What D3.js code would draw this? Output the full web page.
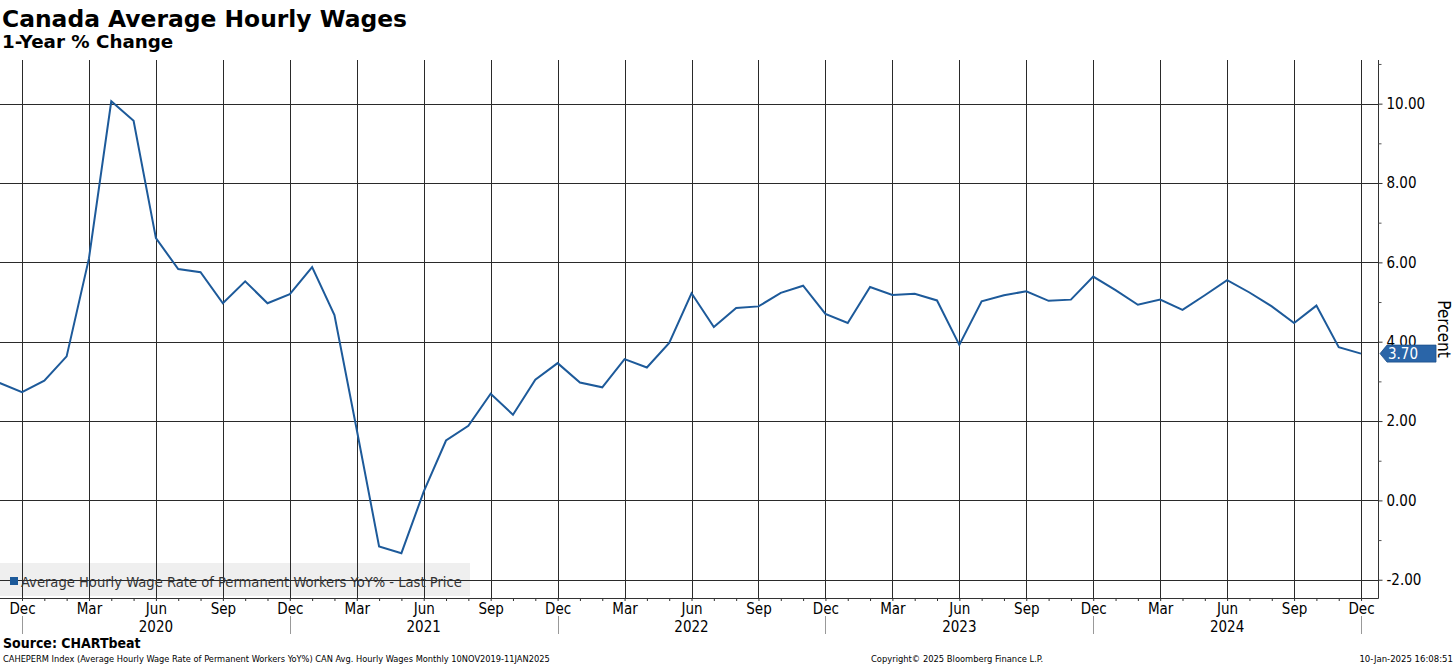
<!DOCTYPE html>
<html>
<head>
<meta charset="utf-8">
<script src="https://cdn.jsdelivr.net/npm/d3@7"></script>
<style>
  html, body { margin: 0; padding: 0; background: #fff; }
  svg { display: block; }
  text { font-family: Tahoma, "DejaVu Sans Condensed", "DejaVu Sans", sans-serif; }
</style>
</head>
<body>
<svg id="chart" width="1456" height="665"></svg>
<script>
// ---------- data ----------
const months = [
  "2019-11","2019-12",
  "2020-01","2020-02","2020-03","2020-04","2020-05","2020-06","2020-07","2020-08","2020-09","2020-10","2020-11","2020-12",
  "2021-01","2021-02","2021-03","2021-04","2021-05","2021-06","2021-07","2021-08","2021-09","2021-10","2021-11","2021-12",
  "2022-01","2022-02","2022-03","2022-04","2022-05","2022-06","2022-07","2022-08","2022-09","2022-10","2022-11","2022-12",
  "2023-01","2023-02","2023-03","2023-04","2023-05","2023-06","2023-07","2023-08","2023-09","2023-10","2023-11","2023-12",
  "2024-01","2024-02","2024-03","2024-04","2024-05","2024-06","2024-07","2024-08","2024-09","2024-10","2024-11","2024-12"
];
const wageYoY = [
  2.96, 2.73,
  3.02, 3.63, 6.10, 10.06, 9.57, 6.61, 5.83, 5.75, 4.97, 5.52, 4.97, 5.20,
  5.88, 4.67, 1.78, -1.16, -1.33, 0.22, 1.51, 1.88, 2.69, 2.16, 3.04, 3.46,
  2.97, 2.85, 3.56, 3.35, 3.97, 5.22, 4.37, 4.85, 4.89, 5.23, 5.41, 4.70,
  4.47, 5.38, 5.18, 5.21, 5.04, 3.92, 5.02, 5.17, 5.27, 5.03, 5.06, 5.64,
  5.30, 4.93, 5.06, 4.80, 5.17, 5.55, 5.24, 4.89, 4.47, 4.91, 3.86, 3.70
];
const monthNames = ["Jan","Feb","Mar","Apr","May","Jun","Jul","Aug","Sep","Oct","Nov","Dec"];
const quarterMonths = ["Mar","Jun","Sep","Dec"];
const yTicks = [-2, 0, 2, 4, 6, 8, 10];
const yMinorTicks = [-1, 1, 3, 5, 7, 9, 11];
const yearLabels = ["2020","2021","2022","2023","2024"];
const lastValueLabel = "3.70";
const titleText = "Canada Average Hourly Wages";
const subtitleText = "1-Year % Change";
const legendText = "Average Hourly Wage Rate of Permanent Workers YoY% - Last Price";
const yAxisTitle = "Percent";
const sourceText = "Source: CHARTbeat";
const footerLeft = "CAHEPERM Index (Average Hourly Wage Rate of Permanent Workers YoY%) CAN Avg. Hourly Wages  Monthly 10NOV2019-11JAN2025";
const footerMid = "Copyright\u00A9 2025 Bloomberg Finance L.P.";
const footerRight = "10-Jan-2025 16:08:51";

// ---------- layout ----------
const plotLeft = 0, plotRight = 1378, plotTop = 60, plotBottom = 598;
const lineColor = "#1d5a9a";
const gridColor = "#2a2a2a";
const baseFont = 'Tahoma, "DejaVu Sans Condensed", "DejaVu Sans", sans-serif';
const titleFont = '"DejaVu Sans", Verdana, sans-serif';

const svg = d3.select("#chart");

const idx = months.map((m, i) => i);
const monthOf = m => +m.split("-")[1];

const x = d3.scaleLinear().domain([0.014, 61.76]).range([plotLeft, plotRight]);
const y = d3.scaleLinear().domain([-2.46, 11.1]).range([plotBottom, plotTop]);

const quarterIdx = idx.filter(i => quarterMonths.includes(monthNames[monthOf(months[i]) - 1]));
const decIdx = idx.filter(i => monthOf(months[i]) === 12);
const junIdx = idx.filter(i => monthOf(months[i]) === 6);

// ---------- legend background (below grid) ----------
svg.append("rect")
  .attr("x", 0).attr("y", 563).attr("width", 470).attr("height", 33)
  .attr("fill", "#efefef");

// ---------- grid ----------
svg.append("g").selectAll("line").data(yTicks).join("line")
  .attr("x1", plotLeft).attr("x2", plotRight)
  .attr("y1", d => Math.round(y(d)) + 0.5).attr("y2", d => Math.round(y(d)) + 0.5)
  .attr("stroke", gridColor).attr("stroke-width", 1);

svg.append("g").selectAll("line").data(quarterIdx).join("line")
  .attr("x1", d => Math.round(x(d)) + 0.5).attr("x2", d => Math.round(x(d)) + 0.5)
  .attr("y1", plotTop).attr("y2", plotBottom)
  .attr("stroke", gridColor).attr("stroke-width", 1);

// ---------- legend ----------
svg.append("rect").attr("x", 10).attr("y", 577).attr("width", 8).attr("height", 8).attr("fill", lineColor);
svg.append("text").attr("x", 21).attr("y", 587)
  .attr("font-size", 14.6).attr("fill", "#333").text(legendText);

// ---------- line ----------
svg.append("defs").append("clipPath").attr("id", "clip")
  .append("rect").attr("x", plotLeft).attr("y", plotTop).attr("width", plotRight - plotLeft).attr("height", plotBottom - plotTop);

const line = d3.line().x((d, i) => x(i)).y(d => y(d));
svg.append("path").datum(wageYoY)
  .attr("clip-path", "url(#clip)")
  .attr("d", line)
  .attr("fill", "none").attr("stroke", lineColor).attr("stroke-width", 2)
  .attr("stroke-linejoin", "miter");

// ---------- x axis ----------
const xAxisG = svg.append("g").attr("transform", `translate(0,${plotBottom})`);
xAxisG.call(d3.axisBottom(x).tickValues(quarterIdx).tickSize(0).tickPadding(5)
  .tickFormat(i => monthNames[monthOf(months[i]) - 1]));
xAxisG.select(".domain").remove();
xAxisG.selectAll("text").attr("font-size", 15).attr("fill", "#000").style("font-family", baseFont);

const xMinor = svg.append("g").attr("transform", `translate(0,${plotBottom})`);
xMinor.call(d3.axisBottom(x).tickValues(idx.filter(i => x(i) >= 0)).tickSize(3).tickFormat(""));
xMinor.select(".domain").remove();
xMinor.selectAll("line").attr("stroke", "#333");

svg.append("line").attr("x1", plotLeft).attr("x2", plotRight + 0.5)
  .attr("y1", plotBottom + 0.5).attr("y2", plotBottom + 0.5).attr("stroke", "#333");

// year labels & separators
svg.append("g").selectAll("text").data(junIdx).join("text")
  .attr("x", d => x(d)).attr("y", 632).attr("text-anchor", "middle")
  .attr("font-size", 15).attr("fill", "#000")
  .text((d, k) => yearLabels[k]);
svg.append("g").selectAll("line").data(decIdx).join("line")
  .attr("x1", d => Math.round(x(d)) + 0.5).attr("x2", d => Math.round(x(d)) + 0.5)
  .attr("y1", 616).attr("y2", 634).attr("stroke", "#999");

// ---------- right y axis ----------
const yAxisG = svg.append("g").attr("transform", `translate(${plotRight + 0.5},0)`);
yAxisG.call(d3.axisRight(y).tickValues(yTicks).tickSize(4).tickPadding(4).tickFormat(d => d.toFixed(2)));
yAxisG.select(".domain").attr("d", `M0,${plotTop}V${plotBottom + 0.5}`).attr("stroke", "#333");
yAxisG.selectAll("text").attr("font-size", 15).attr("fill", "#000").style("font-family", baseFont);
yAxisG.selectAll("line").attr("stroke", "#333");

const yMinorG = svg.append("g").attr("transform", `translate(${plotRight + 0.5},0)`);
yMinorG.call(d3.axisRight(y).tickValues(yMinorTicks.filter(v => y(v) >= plotTop)).tickSize(3).tickFormat(""));
yMinorG.select(".domain").remove();
yMinorG.selectAll("line").attr("stroke", "#555");

svg.append("text")
  .attr("transform", `translate(1438,329) rotate(90)`)
  .attr("text-anchor", "middle").attr("font-size", 17).attr("fill", "#000")
  .text(yAxisTitle);

// last value label
const lastY = y(wageYoY[wageYoY.length - 1]);
const lx = plotRight + 2;
svg.append("path")
  .attr("d", `M${lx},${lastY} L${lx + 7},${lastY - 8.5} L${lx + 56},${lastY - 8.5} L${lx + 56},${lastY + 8.5} L${lx + 7},${lastY + 8.5} Z`)
  .attr("fill", "#2a65a8").attr("stroke", "#1b4f8a").attr("stroke-width", 0.8);
svg.append("text").attr("x", lx + 8).attr("y", lastY + 5.5)
  .attr("font-size", 15).attr("fill", "#fff").text(lastValueLabel);

// ---------- titles ----------
svg.append("text").attr("x", 2).attr("y", 27)
  .style("font-family", titleFont)
  .attr("font-size", 23.4).attr("font-weight", "bold").attr("fill", "#000").text(titleText);
svg.append("text").attr("x", 2).attr("y", 48)
  .style("font-family", titleFont)
  .attr("font-size", 18.3).attr("font-weight", "bold").attr("fill", "#000").text(subtitleText);

// ---------- footer ----------
svg.append("text").attr("x", 3).attr("y", 648)
  .attr("font-size", 14).attr("font-weight", "bold").attr("fill", "#000").text(sourceText);
svg.append("text").attr("x", 3).attr("y", 662)
  .attr("font-size", 9.2).attr("fill", "#000").text(footerLeft);
svg.append("text").attr("x", 871).attr("y", 662)
  .attr("font-size", 9.3).attr("fill", "#000").text(footerMid);
svg.append("text").attr("x", 1453).attr("y", 662).attr("text-anchor", "end")
  .attr("font-size", 9.5).attr("fill", "#000").text(footerRight);
</script>
</body>
</html>
